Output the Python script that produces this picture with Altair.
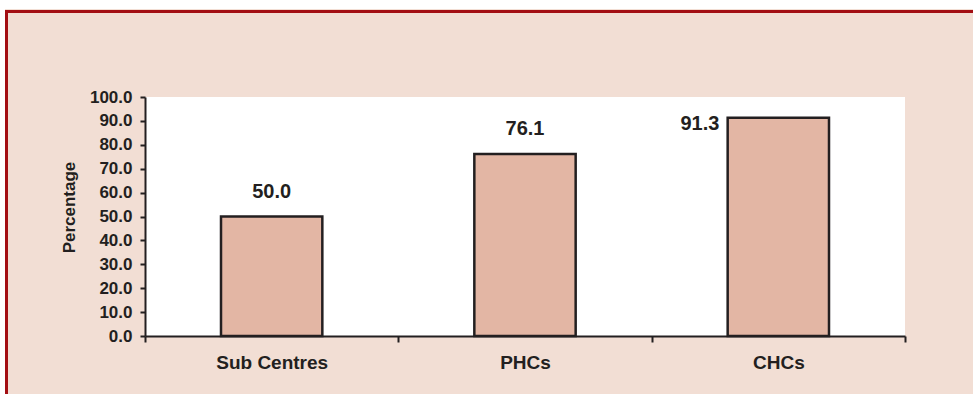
import altair as alt
import pandas as pd

# Share of facilities, by level of care
categories = ["Sub Centres", "PHCs", "CHCs"]
percentages = [50.0, 76.1, 91.3]
y_ticks = [0, 10, 20, 30, 40, 50, 60, 70, 80, 90, 100]

df = pd.DataFrame({"facility": categories, "pct": percentages})

FONT = "Liberation Sans"
INK = "#231f20"
BAR = "#e3b6a4"
PANEL = "#f2ded4"
FRAME = "#a30e13"

W, H = 760, 239
PAD = {"left": 145, "top": 97, "right": 68, "bottom": 58}

x_enc = alt.X(
    "facility:N",
    sort=categories,
    title=None,
    scale=alt.Scale(paddingInner=0, paddingOuter=0),
    axis=alt.Axis(
        tickBand="extent",
        labelAngle=0,
        labelFont=FONT,
        labelFontWeight="bold",
        labelFontSize=19,
        labelColor=INK,
        labelPadding=11,
        tickSize=6,
        tickWidth=2,
        tickColor=INK,
        domainColor=INK,
        domainWidth=2,
    ),
)
y_enc = alt.Y(
    "pct:Q",
    title="Percentage",
    scale=alt.Scale(domain=[0, 100], nice=False),
    axis=alt.Axis(
        values=y_ticks,
        format=".1f",
        grid=False,
        labelFont=FONT,
        labelFontWeight="bold",
        labelFontSize=17,
        labelColor=INK,
        labelPadding=8,
        tickSize=5,
        tickWidth=2,
        tickColor=INK,
        domainColor=INK,
        domainWidth=2,
        titleFont=FONT,
        titleFontWeight="bold",
        titleFontSize=17,
        titleColor=INK,
        titleX=-71,
        titleY=110,
        titleAlign="center",
        titleBaseline="alphabetic",
    ),
)

base = alt.Chart(df)

bars = base.mark_bar(
    width=alt.RelativeBandSize(0.4), fill=BAR, stroke=INK, strokeWidth=2.5
).encode(x=x_enc, y=y_enc)

label_style = dict(font=FONT, fontWeight="bold", fontSize=20, color=INK)
text_val = alt.Text("pct:Q", format=".1f")

# values that fit above their bar
above = (
    base.transform_filter("datum.pct < 90")
    .mark_text(baseline="alphabetic", dy=-19, **label_style)
    .encode(x=x_enc, y=y_enc, text=text_val)
)
# tall bars get their value beside the top-left corner
beside = (
    base.transform_filter("datum.pct >= 90")
    .mark_text(align="right", baseline="alphabetic", dx=-59, dy=12, **label_style)
    .encode(x=x_enc, y=y_enc, text=text_val)
)

# frame around the panel: white margin, red rule on top and left
one = alt.Chart(pd.DataFrame({"k": [0]}))
white_top = one.mark_rect(fill="white").encode(
    x=alt.value(-145), x2=alt.value(828), y=alt.value(-97), y2=alt.value(-88)
)
white_left = one.mark_rect(fill="white").encode(
    x=alt.value(-145), x2=alt.value(-140), y=alt.value(-97), y2=alt.value(297)
)
red_top = one.mark_rect(fill=FRAME).encode(
    x=alt.value(-140), x2=alt.value(828), y=alt.value(-87), y2=alt.value(-84)
)
red_left = one.mark_rect(fill=FRAME).encode(
    x=alt.value(-140), x2=alt.value(-137), y=alt.value(-87), y2=alt.value(297)
)

chart = (
    alt.layer(white_top, white_left, red_top, red_left, bars, above, beside)
    .properties(
        width=W,
        height=H,
        padding=PAD,
        autosize=alt.AutoSizeParams(type="none"),
        background=PANEL,
    )
    .configure_view(fill="white", strokeWidth=0)
)

chart.save("out.html", embed_options={"renderer": "svg", "actions": False})
